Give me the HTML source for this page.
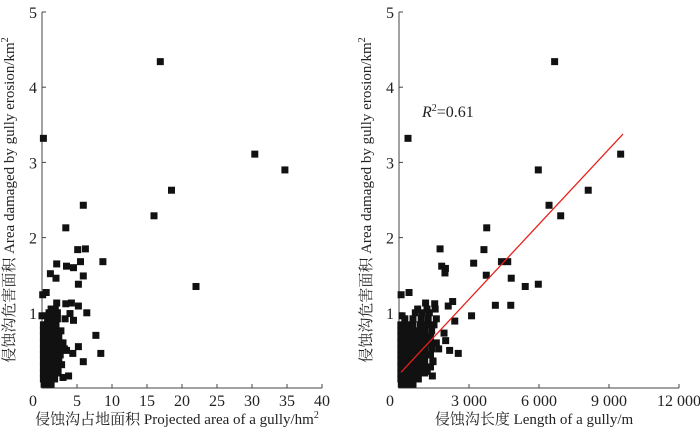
<!DOCTYPE html>
<html><head><meta charset="utf-8"><style>
body{margin:0;background:#fff;}
svg{display:block;font-family:"Liberation Serif","Noto Serif CJK SC",serif;}
</style></head><body>
<svg id="chart" width="700" height="432" viewBox="0 0 700 432" xmlns="http://www.w3.org/2000/svg"></svg>
<script>
const yTicks=[0,1,2,3,4,5];
const leftXTicks=[0,5,10,15,20,25,30,35,40];
const rightXTicks=[0,3000,6000,9000,12000];
const rightXTickLabels=["0","3 000","6 000","9 000","12 000"];
const leftPts=[[16.9,4.34],[0.2,3.32],[30.4,3.11],[34.7,2.90],[18.5,2.63],[5.9,2.43],[16.0,2.29],[3.4,2.13],[5.1,1.84],[6.2,1.85],[8.7,1.68],[2.1,1.65],[3.5,1.62],[4.5,1.60],[5.5,1.68],[1.2,1.52],[2.0,1.46],[5.9,1.49],[5.2,1.38],[22.0,1.35],[0.1,1.24],[0.6,1.27],[2.1,1.13],[3.4,1.12],[4.2,1.13],[5.2,1.09],[6.4,1.0],[0,0.96],[7.7,0.70],[8.4,0.46],[5.2,0.55],[5.9,0.35],[3.8,0.16],[3.0,0.14],[2.8,0.31],[4.4,0.46],[4.0,0.99],[4.5,0.90],[3.3,0.92],[3.5,0.50],
[0.3,0.05],[0.8,0.05],[1.3,0.05],
[0.2,0.12],[0.7,0.12],[1.2,0.12],[1.8,0.12],
[0.2,0.2],[0.7,0.2],[1.2,0.2],[1.7,0.2],[2.3,0.2],
[0.2,0.28],[0.7,0.28],[1.2,0.28],[1.7,0.28],[2.3,0.28],
[0.2,0.36],[0.7,0.36],[1.2,0.36],[1.7,0.36],[2.4,0.36],
[0.2,0.44],[0.7,0.44],[1.2,0.44],[1.8,0.44],[2.6,0.44],
[0.2,0.52],[0.7,0.52],[1.2,0.52],[1.8,0.52],[2.5,0.52],[3.2,0.52],
[0.2,0.6],[0.7,0.6],[1.2,0.6],[1.8,0.6],[2.6,0.6],[3.0,0.6],
[0.2,0.68],[0.7,0.68],[1.2,0.68],[1.8,0.68],[2.4,0.68],
[0.2,0.76],[0.7,0.76],[1.2,0.76],[1.8,0.76],[2.7,0.76],
[0.2,0.84],[0.7,0.84],[1.3,0.84],[2.0,0.84],
[0.8,0.92],[1.4,0.92],[2.2,0.92],
[1.0,1.0],[1.6,1.0],[2.2,1.0],[1.3,1.05],[1.9,1.05]];
const rightPts=[[6670,4.34],[386,3.32],[9500,3.11],[5970,2.90],[8110,2.63],[6430,2.43],[6930,2.29],[3760,2.13],[1760,1.85],[3640,1.84],[1830,1.62],[1990,1.59],[1970,1.53],[3200,1.66],[4390,1.68],[4660,1.68],[3740,1.50],[4810,1.46],[5410,1.35],[5970,1.38],[4130,1.10],[4790,1.10],[3110,0.96],[90,1.24],[430,1.27],[130,0.96],[2110,1.09],[2300,1.15],[2390,0.89],[1930,0.73],[2000,0.63],[2170,0.50],[2540,0.46],[1430,0.16],[1210,0.22],[1140,1.13],[1530,1.12],[1600,0.92],[1460,0.35],
[100,0.05],[350,0.05],[600,0.05],
[80,0.12],[330,0.12],[580,0.12],[830,0.12],
[80,0.2],[330,0.2],[580,0.2],[830,0.2],[1100,0.2],
[80,0.28],[330,0.28],[580,0.28],[830,0.28],[1100,0.28],[1350,0.28],
[80,0.36],[330,0.36],[580,0.36],[830,0.36],[1100,0.36],[1450,0.36],
[80,0.44],[330,0.44],[580,0.44],[830,0.44],[1100,0.44],[1350,0.44],
[80,0.52],[330,0.52],[580,0.52],[830,0.52],[1100,0.52],[1400,0.52],[1700,0.52],
[80,0.6],[330,0.6],[580,0.6],[830,0.6],[1100,0.6],[1350,0.6],[1600,0.6],
[80,0.68],[330,0.68],[580,0.68],[830,0.68],[1100,0.68],[1350,0.68],
[80,0.76],[330,0.76],[580,0.76],[830,0.76],[1100,0.76],[1400,0.76],
[80,0.84],[330,0.84],[580,0.84],[900,0.84],[1200,0.84],[1500,0.84],
[250,0.92],[600,0.92],[950,0.92],[1250,0.92],
[700,1.0],[1000,1.0],[1300,1.0],[800,1.05],[1200,1.05],[1550,1.05]];
const fitX=[86,9600];
const fitSlope=0.000333, fitIntercept=0.18;

const svg=document.getElementById('chart');
const NS='http://www.w3.org/2000/svg';
function mk(tag,attrs,parent){const e=document.createElementNS(NS,tag);for(const k in attrs)e.setAttribute(k,attrs[k]);(parent||svg).appendChild(e);return e;}
const Y0=388, YU=75.2;
const ys=v=>Y0-v*YU;

function panel(name,x0,xEnd,xMax,xTicks,xLabels,pts,xTitle){
  const g=mk('g',{});
  
  
  const xs=v=>x0+v/xMax*(xEnd-x0);
  const ax=mk('path',{d:`M${x0},${ys(5)}V${Y0}H${xEnd}`,stroke:'#444',fill:'none','stroke-width':1},g);
  
  
  yTicks.forEach(t=>{
    mk('line',{x1:x0,x2:x0+4,y1:ys(t),y2:ys(t),stroke:'#444'},g);
    if(t>0){const tx=mk('text',{x:x0-5,y:ys(t)+6,'text-anchor':'end','font-size':16,fill:'#222'},g);tx.textContent=t;
    
    }
  });
  xTicks.forEach((t,i)=>{
    mk('line',{x1:xs(t),x2:xs(t),y1:Y0,y2:Y0-4,stroke:'#444'},g);
    const tx=mk('text',{x:i===0?xs(t)-9:xs(t),y:Y0+18,'text-anchor':'middle','font-size':16,fill:'#222'},g);tx.textContent=xLabels[i];
    
    
  });
  pts.forEach(p=>{
    const r=mk('rect',{x:xs(p[0])-3.5,y:ys(p[1])-3.5,width:7,height:7,fill:'#111'},g);
    
    
  });
  const yt=mk('text',{transform:`translate(${x0-28},${ys(2.5)}) rotate(-90)`,'text-anchor':'middle','font-size':15,fill:'#222'},g);
  yt.innerHTML='侵蚀沟危害面积 Area damaged by gully erosion/km<tspan dy="-6" font-size="10">2</tspan>';
  
  
  const xt=mk('text',{x:(x0+xEnd)/2-5,y:424,'text-anchor':'middle','font-size':15,fill:'#222'},g);
  xt.innerHTML=xTitle;
  
  
  return xs;
}
panel('left-panel',42,322,40,leftXTicks,leftXTicks.map(String),leftPts,'侵蚀沟占地面积 Projected area of a gully/hm<tspan dy="-6" font-size="10">2</tspan>');
const xsR=panel('right-panel',399,679,12000,rightXTicks,rightXTickLabels,rightPts,'侵蚀沟长度 Length of a gully/m');
const fl=mk('line',{x1:xsR(fitX[0]),y1:ys(fitIntercept+fitSlope*fitX[0]),x2:xsR(fitX[1]),y2:ys(fitIntercept+fitSlope*fitX[1]),stroke:'#e8201c','stroke-width':1.3});


const r2=mk('text',{x:422,y:117,'font-size':16,fill:'#222'});
r2.innerHTML='<tspan font-style="italic">R</tspan><tspan dy="-6" font-size="10">2</tspan><tspan dy="6">=0.61</tspan>';


</script>
</body></html>
